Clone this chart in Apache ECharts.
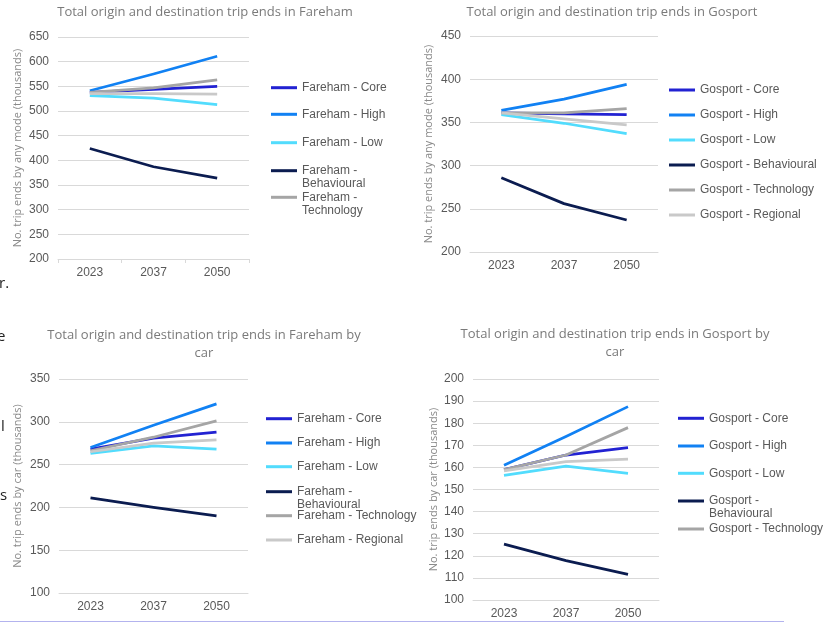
<!DOCTYPE html>
<html>
<head>
<meta charset="utf-8">
<script src="https://cdn.jsdelivr.net/npm/echarts@6/dist/echarts.min.js"></script>
<style>
html,body{margin:0;padding:0;background:#fff;}
#main{width:829px;height:623px;}
</style>
</head>
<body>
<div id="main"></div>
<script>
// ---- data ----
const categories = ['2023', '2037', '2050'];
const scenarios = ['Core', 'High', 'Low', 'Behavioural', 'Technology', 'Regional'];

// Fareham, all modes (thousands)
const farehamAllCore = [538, 544, 550];
const farehamAllHigh = [541, 575, 611];
const farehamAllLow = [531, 526, 513];
const farehamAllBehavioural = [424, 387, 364];
const farehamAllTechnology = [538, 547, 563];
const farehamAllRegional = [535, 535, 534];

// Gosport, all modes (thousands)
const gosportAllCore = [361, 360, 359];
const gosportAllHigh = [364, 377, 394];
const gosportAllLow = [359, 349, 337];
const gosportAllBehavioural = [286, 256, 237];
const gosportAllTechnology = [361, 361, 366];
const gosportAllRegional = [361, 354, 347];

// Fareham, car (thousands)
const farehamCarCore = [268, 281, 288];
const farehamCarHigh = [270, 296, 321];
const farehamCarLow = [263, 272, 268];
const farehamCarBehavioural = [211, 200, 190];
const farehamCarTechnology = [266, 282, 301];
const farehamCarRegional = [265, 275, 279];

// Gosport, car (thousands)
const gosportCarCore = [159, 165.6, 169];
const gosportCarHigh = [161, 174, 187.5];
const gosportCarLow = [156.4, 160.6, 157.3];
const gosportCarBehavioural = [125.3, 117.8, 111.6];
const gosportCarTechnology = [159, 165.6, 178];
const gosportCarRegional = [158.4, 162.6, 163.8];

const yTicksAll1 = {min: 200, max: 650, interval: 50};
const yTicksAll2 = {min: 200, max: 450, interval: 50};
const yTicksCar1 = {min: 100, max: 350, interval: 50};
const yTicksCar2 = {min: 100, max: 200, interval: 10};

// ---- styling ----
const colors = ['#2222d2', '#1181f3', '#52dcfd', '#0b1c50', '#a5a5a5', '#c9c9c9'];
const labelColor = '#595959';
const gridColor = '#d9d9d9';

const panels = [
  {place: 'Fareham', title: 'Total origin and destination trip ends in Fareham', tx: 205, ty: 12,
   grid: {left: 58, top: 37, width: 191, height: 222}, ticks: yTicksAll1,
   yName: 'No. trip ends by any mode (thousands)', nameGap: 35, axisTick: true,
   values: [farehamAllCore, farehamAllHigh, farehamAllLow, farehamAllBehavioural, farehamAllTechnology, farehamAllRegional],
   legend: {x: 271, ys: [87.7, 114.3, 142.7, 170.7, 197.3], two: [false, false, false, true, true]}},
  {place: 'Gosport', title: 'Total origin and destination trip ends in Gosport', tx: 612, ty: 12,
   grid: {left: 470, top: 36, width: 188, height: 216}, ticks: yTicksAll2,
   yName: 'No. trip ends by any mode (thousands)', nameGap: 36, axisTick: false,
   values: [gosportAllCore, gosportAllHigh, gosportAllLow, gosportAllBehavioural, gosportAllTechnology, gosportAllRegional],
   legend: {x: 669, ys: [90, 115, 140, 165, 190, 215], two: [false, false, false, false, false, false]}},
  {place: 'Fareham', title: 'Total origin and destination trip ends in Fareham by\ncar', tx: 204, ty: 335,
   grid: {left: 59, top: 379, width: 189, height: 214}, ticks: yTicksCar1,
   yName: 'No. trip ends by car (thousands)', nameGap: 36, axisTick: false,
   values: [farehamCarCore, farehamCarHigh, farehamCarLow, farehamCarBehavioural, farehamCarTechnology, farehamCarRegional],
   legend: {x: 266, ys: [418.7, 443, 466.7, 491.7, 515.7, 540], two: [false, false, false, true, false, false]}},
  {place: 'Gosport', title: 'Total origin and destination trip ends in Gosport by\ncar', tx: 615, ty: 334,
   grid: {left: 473, top: 379, width: 186, height: 221}, ticks: yTicksCar2,
   yName: 'No. trip ends by car (thousands)', nameGap: 34, axisTick: false,
   values: [gosportCarCore, gosportCarHigh, gosportCarLow, gosportCarBehavioural, gosportCarTechnology, gosportCarRegional],
   legend: {x: 678, ys: [418.3, 446, 473.3, 501, 529], two: [false, false, false, true, false]}}
];

const titleLH = 18.5;
const legendLH = 13;

const option = {
  animation: false,
  backgroundColor: '#ffffff',
  title: [], grid: [], xAxis: [], yAxis: [], series: [], legend: [],
  graphic: []
};

panels.forEach((p, i) => {
  option.title.push({
    text: p.title, left: p.tx, top: p.ty - titleLH / 2, textAlign: 'center', padding: 0,
    textStyle: {fontFamily: 'Open Sans', fontWeight: 'normal', fontSize: 13, color: '#7a7a7a', lineHeight: titleLH}
  });
  option.grid.push(Object.assign({containLabel: false}, p.grid));
  option.xAxis.push({
    type: 'category', gridIndex: i, data: categories, boundaryGap: true,
    axisLine: {show: true, lineStyle: {color: gridColor, width: 1}},
    axisTick: {show: p.axisTick, length: 4, lineStyle: {color: gridColor}},
    axisLabel: {color: labelColor, fontFamily: 'Liberation Sans', fontSize: 12, margin: 8}
  });
  option.yAxis.push({
    type: 'value', gridIndex: i, min: p.ticks.min, max: p.ticks.max, interval: p.ticks.interval,
    axisLine: {show: false}, axisTick: {show: false},
    splitLine: {show: true, lineStyle: {color: gridColor, width: 1}},
    axisLabel: {color: labelColor, fontFamily: 'Liberation Sans', fontSize: 12, margin: 9},
    name: p.yName, nameLocation: 'middle', nameGap: p.nameGap, nameRotate: 90,
    nameTextStyle: {color: '#8a8a8a', fontFamily: 'Open Sans', fontSize: 11}
  });
  scenarios.forEach((s, k) => {
    option.series.push({
      type: 'line', name: p.place + ' - ' + s, xAxisIndex: i, yAxisIndex: i,
      data: p.values[k], showSymbol: false, symbol: 'none',
      color: colors[k],
      itemStyle: {color: colors[k]},
      lineStyle: {color: colors[k], width: 2.75, join: 'round'}
    });
  });
  p.legend.ys.forEach((y, k) => {
    const two = p.legend.two[k];
    option.legend.push({
      data: [p.place + ' - ' + scenarios[k]],
      left: p.legend.x, top: y - (two ? 1.5 * legendLH : 0.5 * legendLH),
      orient: 'vertical', padding: 0, itemWidth: 26, itemHeight: 3, icon: 'rect',
      selectedMode: false,
      formatter: two ? (n => ' \n' + n.replace(' - ', ' -\n')) : (n => n),
      textStyle: {color: labelColor, fontFamily: 'Liberation Sans', fontSize: 12,
                  lineHeight: legendLH}
    });
  });
});

// clipped fragments of surrounding document text at the left edge
const fragments = [
  {t: 'r.', x: -1, y: 285},
  {t: 'e', x: -3, y: 338},
  {t: 'l', x: 1, y: 428},
  {t: 's', x: 0, y: 497}
];
fragments.forEach(f => {
  option.graphic.push({type: 'text', left: f.x, top: f.y - 9,
    style: {text: f.t, fill: '#222', font: '15px "Open Sans"'}});
});
option.graphic.push({type: 'line', shape: {x1: 0, y1: 621.5, x2: 784, y2: 621.5},
  style: {stroke: '#b3b3ee', lineWidth: 1}});

const chart = echarts.init(document.getElementById('main'), null, {renderer: 'canvas'});
chart.setOption(option);
</script>
</body>
</html>
